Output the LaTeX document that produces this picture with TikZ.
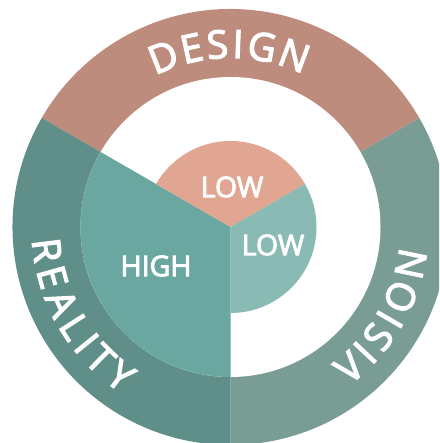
\documentclass[tikz,border=0pt]{standalone}
\usepackage{fontspec}
\setmainfont{Open Sans}
\usetikzlibrary{calc}
\definecolor{designc}{RGB}{190,140,125}
\definecolor{visionc}{RGB}{121,157,148}
\definecolor{realityc}{RGB}{95,143,136}
\definecolor{highc}{RGB}{106,167,160}
\definecolor{lowtopc}{RGB}{224,166,145}
\definecolor{lowrightc}{RGB}{137,186,180}
\newcommand{\ringfont}{\fontsize{39}{40}\selectfont}
\newcommand{\heavytext}[2]{\special{pdf:literal direct #1 w 2 Tr}#2\special{pdf:literal direct 0 Tr}}
\tikzset{
  lbl/.style={text=white, inner sep=0pt, font=\fontsize{28.5}{30}\selectfont},
  ringtxt/.style={text=white, inner sep=0pt, anchor=center, font=\ringfont},
}
\newdimen\wl
\def\trk{4.6}
% #1 centre angle, #2 radius of letter middles, #3 +1 tops outward / -1 tops inward, #4 name, #5 letters
\newcommand\ringword[5]{%
  \gdef\tot{0}%
  \foreach \ch in {#5}{%
    \pgfinterruptpicture\settowidth\wl{\ringfont\ch}\global\wl=\wl\endpgfinterruptpicture
    \pgfmathsetmacro\tmp{\tot+\wl+\trk}\xdef\tot{\tmp}}%
  \pgfmathsetmacro\tmp{\tot-\trk}\xdef\tot{\tmp}%
  \gdef\acc{0}%
  \foreach \ch [count=\i] in {#5}{%
    \pgfinterruptpicture\settowidth\wl{\ringfont\ch}\global\wl=\wl\endpgfinterruptpicture
    \pgfmathsetmacro\pos{\acc+\wl/2}%
    \pgfmathsetmacro\ang{#1+#3*(\tot/2-\pos)/#2*180/pi}%
    \node[ringtxt, rotate=\ang-#3*90] (#4\i) at ($(C)+(\ang:#2pt)$) {\heavytext{1.2}{\ch}};
    \pgfmathsetmacro\tmp{\acc+\wl+\trk}\xdef\acc{\tmp}%
  }%
}
\begin{document}
\begin{tikzpicture}[x=1pt,y=1pt]
\useasboundingbox (0,0) rectangle (439,443);
\clip (0,0) rectangle (439,443);
\coordinate (C) at (230.5,216);
% outer ring sectors
\fill[designc] (C) -- ++(30:218pt) arc[start angle=30, end angle=150, radius=218pt] -- cycle;
\fill[visionc] (C) -- ++(-90:218pt) arc[start angle=-90, end angle=30, radius=218pt] -- cycle;
\fill[realityc] (C) -- ++(150:218pt) arc[start angle=150, end angle=270, radius=218pt] -- cycle;
% white inner disc
\fill[white] (C) circle[radius=150pt];
% inner sectors
\fill[highc] (C) -- ++(150:150pt) arc[start angle=150, end angle=270, radius=150pt] -- cycle;
\fill[lowtopc] (C) -- ++(30:86pt) arc[start angle=30, end angle=150, radius=86pt] -- cycle;
\fill[lowrightc] (C) -- ++(-90:86pt) arc[start angle=-90, end angle=30, radius=86pt] -- cycle;
% ring texts
\ringword{90.5}{183}{1}{design}{D,E,S,I,G,N}
\ringword{-30.2}{184}{-1}{vision}{V,I,S,I,O,N}
\ringword{210.2}{185}{-1}{reality}{R,E,A,L,I,T,Y}
% inner labels
\node[lbl] (lowtop) at (232,256) {\heavytext{0.9}{LOW}};
\node[lbl] (lowright) at (273,198) {\heavytext{0.9}{LOW}};
\node[lbl] (high) at (156,177) {\heavytext{0.9}{HIGH}};
\end{tikzpicture}
\end{document}
